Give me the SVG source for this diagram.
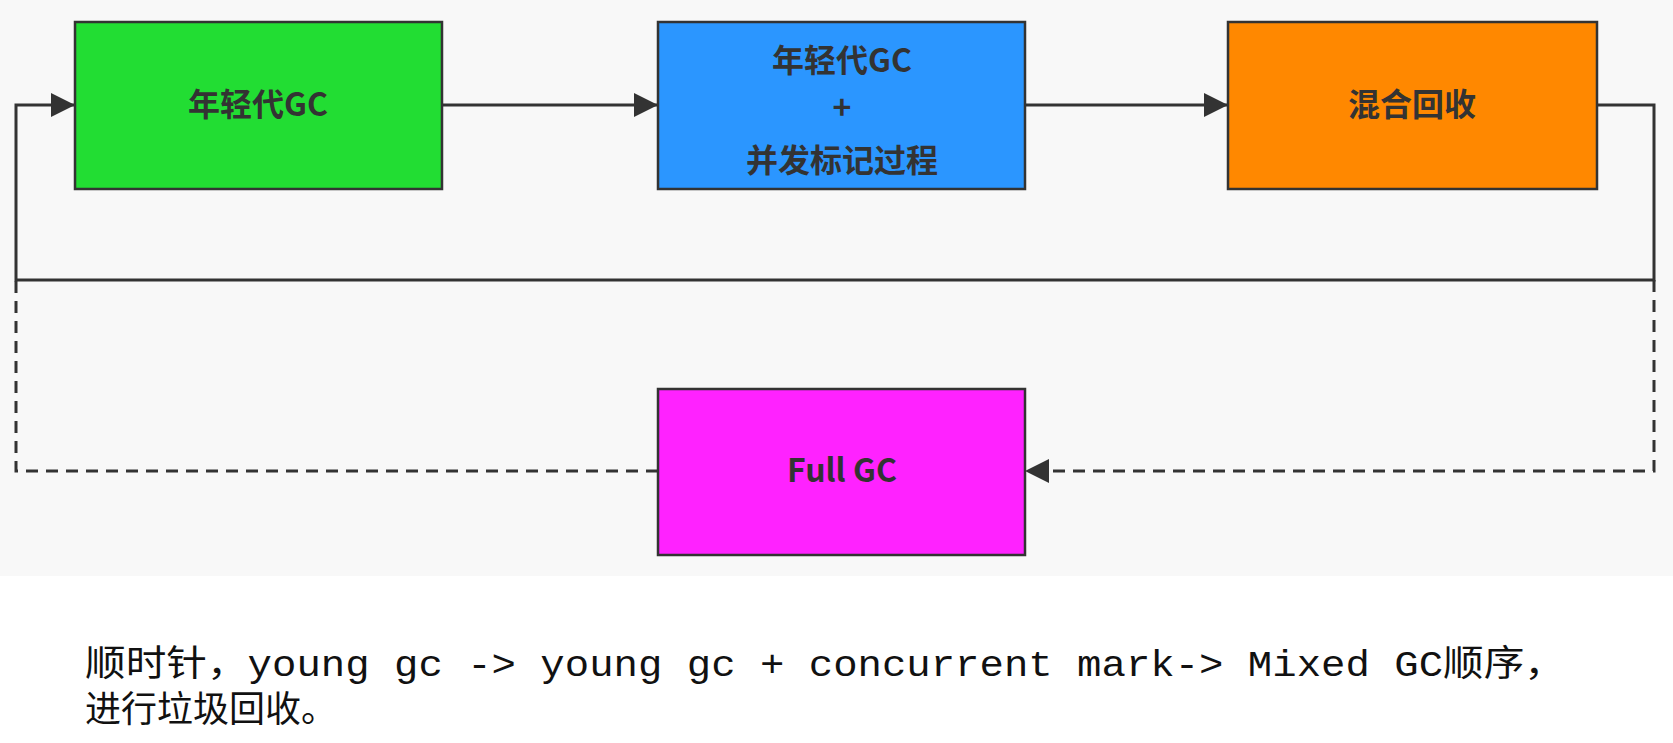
<svg xmlns="http://www.w3.org/2000/svg" width="1673" height="743" viewBox="0 0 1673 743">
<defs>
<marker id="ah" viewBox="0 0 10 10" refX="10" refY="5" markerWidth="10" markerHeight="10" markerUnits="userSpaceOnUse" orient="auto"><path d="M0,0 L10,5 L0,10 z" fill="#333"/></marker>
<marker id="ahb" viewBox="0 0 10 10" refX="10" refY="5" markerWidth="28" markerHeight="24" markerUnits="userSpaceOnUse" orient="auto"><path d="M0,0 L10,5 L0,10 z" fill="#333"/></marker>
</defs>
<style>
.box{stroke:#333;stroke-width:2.5}
.lbl{font-family:"Noto Sans CJK SC","Noto Sans",sans-serif;font-weight:bold;font-size:32px;fill:#333;text-anchor:middle}
.ln{fill:none;stroke:#333;stroke-width:3}
.dash{stroke-dasharray:12,8}
.cap{font-family:"Liberation Mono","Noto Sans CJK SC",monospace;font-size:36px;fill:#111}
</style>
<rect width="1673" height="743" fill="#fff"/>
<rect width="1673" height="576" fill="#f8f8f8"/>
<g id="connectors">
<path class="ln" d="M442,105 H658" marker-end="url(#ahb)"/>
<path class="ln" d="M1025,105 H1228" marker-end="url(#ahb)"/>
<path class="ln" d="M1597,105 H1654 V280 H16 V105 H75" marker-end="url(#ahb)"/>
<path class="ln dash" d="M1654,280 V471 H1025" marker-end="url(#ahb)"/>
<path class="ln dash" d="M658,471 H16 V280"/>
</g>
<g id="young"><rect class="box" x="75" y="22" width="367" height="167" fill="#22dd33"/><text class="lbl" x="258" y="116">年轻代GC</text></g>
<g id="concurrent"><rect class="box" x="658" y="22" width="367" height="167" fill="#2b96ff"/><text class="lbl" x="842" y="72">年轻代GC</text><text class="lbl" x="842" y="119">+</text><text class="lbl" x="842" y="172">并发标记过程</text></g>
<g id="mixed"><rect class="box" x="1228" y="22" width="369" height="167" fill="#ff8800"/><text class="lbl" x="1412" y="116">混合回收</text></g>
<g id="full"><rect class="box" x="658" y="389" width="367" height="166" fill="#ff22ff"/><text class="lbl" x="842" y="482">Full GC</text></g>
<text class="cap" x="85" y="676" textLength="1480" lengthAdjust="spacingAndGlyphs">顺时针，young gc -&gt; young gc + concurrent mark-&gt; Mixed GC顺序，</text>
<text class="cap" x="85" y="722">进行垃圾回收。</text>
</svg>
